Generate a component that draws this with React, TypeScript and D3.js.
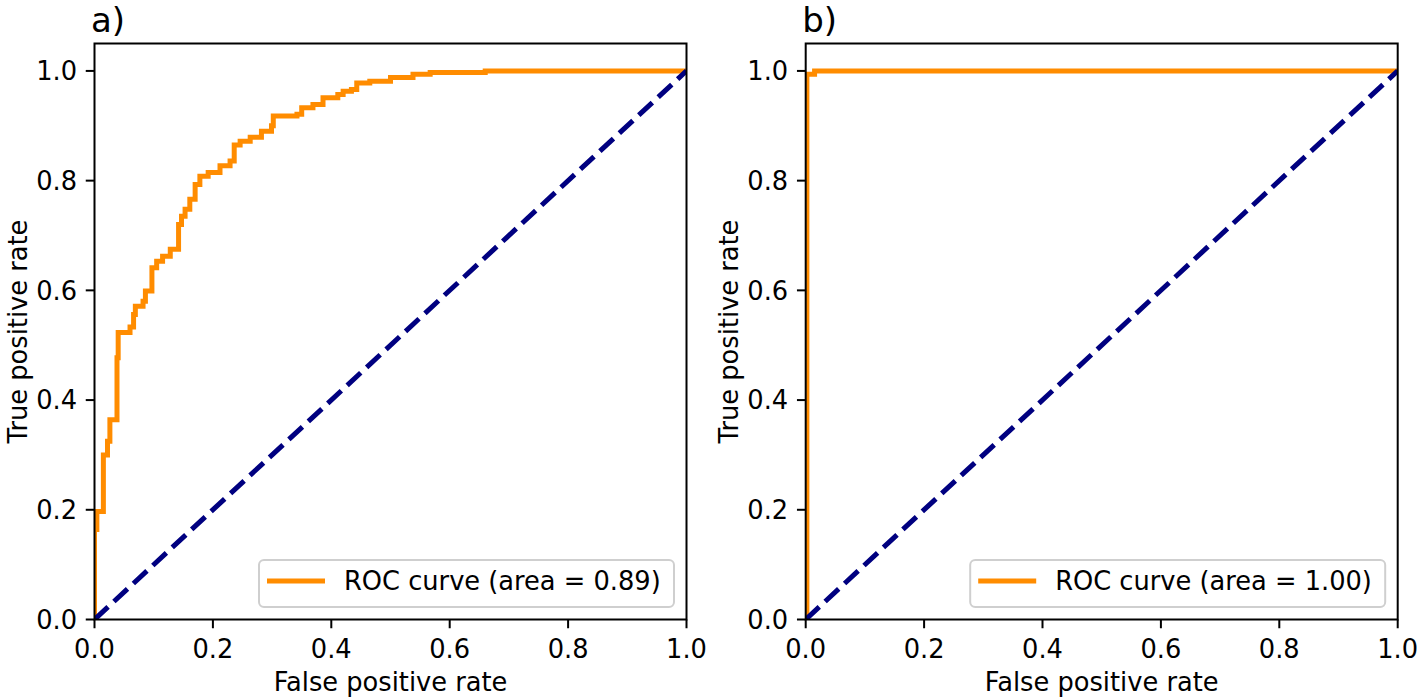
import * as d3 from 'd3';

// ROC corner points (vertical step ends at each point)
const fprA = [0, 0, 0.004, 0.015, 0.022, 0.026, 0.038, 0.04, 0.06, 0.066, 0.069, 0.082, 0.086, 0.097, 0.105, 0.115, 0.128, 0.142, 0.142, 0.147, 0.153, 0.161, 0.17, 0.178, 0.192, 0.212, 0.229, 0.236, 0.246, 0.263, 0.282, 0.299, 0.302, 0.342, 0.35, 0.369, 0.386, 0.411, 0.42, 0.434, 0.443, 0.465, 0.5, 0.538, 0.567, 0.66, 1.0];
const tprA = [0, 0.164, 0.197, 0.3, 0.325, 0.364, 0.477, 0.523, 0.533, 0.556, 0.571, 0.58, 0.599, 0.641, 0.653, 0.662, 0.675, 0.684, 0.72, 0.735, 0.748, 0.766, 0.793, 0.808, 0.815, 0.827, 0.836, 0.865, 0.872, 0.879, 0.89, 0.9, 0.918, 0.921, 0.933, 0.939, 0.951, 0.957, 0.963, 0.966, 0.978, 0.981, 0.988, 0.994, 0.997, 1.0, 1.0];

// right panel: near-perfect classifier
const fprB = [0, 0.002, 0.015, 1.0];
const tprB = [0, 0.994, 1.0, 1.0];

const panelTitles = ['a)', 'b)'];
const aucLabels = ['0.89', '1.00'];
const tickValues = [0, 0.2, 0.4, 0.6, 0.8, 1.0];

const W = 1417;
const H = 698;
const top = 43.5;
const bottom = 619.5;
const plotW = 592;
const lefts = [94.5, 805.7];
const font = '"DejaVu Sans", sans-serif';
const fs = 25.7;

function Panel({ idx, fpr, tpr }: { idx: number; fpr: number[]; tpr: number[] }) {
    const left = lefts[idx];
    const x = d3.scaleLinear().domain([0, 1]).range([left, left + plotW]);
    const y = d3.scaleLinear().domain([0, 1.05]).range([bottom, top]);
    const fmt = d3.format('.1f');

    const pts = fpr.map((f, i) => [f, tpr[i]] as [number, number]);
    const roc = d3
        .line<[number, number]>()
        .x((d) => x(d[0]))
        .y((d) => y(d[1]))
        .curve(d3.curveStepAfter)(pts);
    const diag = d3
        .line<number>()
        .x((d) => x(d))
        .y((d) => y(d))([0, 1]);

    const clipId = `clip-${idx}`;
    const legW = 415;
    const legH = 47;
    const legX = left + plotW - 12.5 - legW;
    const legY = bottom - 12.5 - legH;
    const legMid = legY + 21;

    return (
        <g>
            <defs>
                <clipPath id={clipId}>
                    <rect x={left} y={top} width={plotW} height={bottom - top} />
                </clipPath>
            </defs>
            <g clipPath={`url(#${clipId})`}>
                <path d={roc ?? ''} fill="none" stroke="#ff8c00" strokeWidth={5} />
                <path
                    d={diag ?? ''}
                    fill="none"
                    stroke="#000080"
                    strokeWidth={5}
                    strokeDasharray="18.5 8"
                />
            </g>

            {/* spines */}
            <rect
                x={left}
                y={top}
                width={plotW}
                height={bottom - top}
                fill="none"
                stroke="#000"
                strokeWidth={2}
            />

            {/* y axis */}
            {tickValues.map((t) => (
                <g key={`y${t}`}>
                    <line x1={left - 8.75} x2={left} y1={y(t)} y2={y(t)} stroke="#000" strokeWidth={2} />
                    <text
                        x={left - 17.5}
                        y={y(t)}
                        dy="0.36em"
                        textAnchor="end"
                        fontFamily={font}
                        fontSize={fs}
                    >
                        {fmt(t)}
                    </text>
                </g>
            ))}

            {/* x axis */}
            {tickValues.map((t) => (
                <g key={`x${t}`}>
                    <line x1={x(t)} x2={x(t)} y1={bottom} y2={bottom + 8.75} stroke="#000" strokeWidth={2} />
                    <text x={x(t)} y={658} textAnchor="middle" fontFamily={font} fontSize={fs}>
                        {fmt(t)}
                    </text>
                </g>
            ))}

            <text x={left + plotW / 2} y={691} textAnchor="middle" fontFamily={font} fontSize={fs}>
                False positive rate
            </text>
            <text
                transform={`translate(${left - 67.5},${(top + bottom) / 2}) rotate(-90)`}
                textAnchor="middle"
                fontFamily={font}
                fontSize={fs}
            >
                True positive rate
            </text>

            <text x={left - 3.5} y={32} fontFamily={font} fontSize={34}>
                {panelTitles[idx]}
            </text>

            {/* legend */}
            <rect
                x={legX}
                y={legY}
                width={legW}
                height={legH}
                rx={5}
                fill="#fff"
                fillOpacity={0.8}
                stroke="#cfcfcf"
                strokeWidth={2}
            />
            <line x1={legX + 8} x2={legX + 66} y1={legMid} y2={legMid} stroke="#ff8c00" strokeWidth={5} />
            <text x={legX + 85} y={legMid} dy="0.36em" fontFamily={font} fontSize={fs}>
                {`ROC curve (area = ${aucLabels[idx]})`}
            </text>
        </g>
    );
}

export default function App() {
    return (
        <svg
            width={W}
            height={H}
            style={{ position: 'absolute', left: 0, top: 0, background: '#fff' }}
        >
            <Panel idx={0} fpr={fprA} tpr={tprA} />
            <Panel idx={1} fpr={fprB} tpr={tprB} />
        </svg>
    );
}
